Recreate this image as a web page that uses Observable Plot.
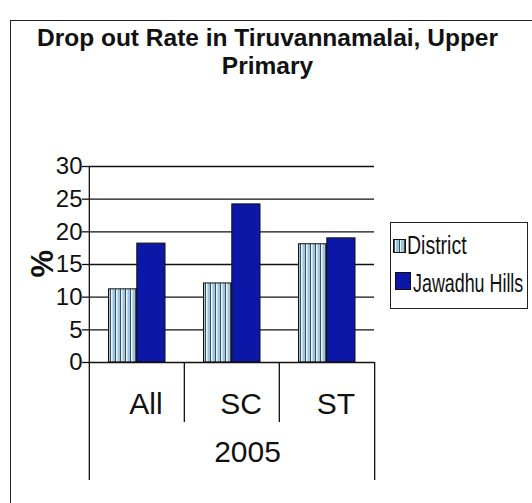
<!DOCTYPE html>
<html>
<head>
<meta charset="utf-8">
<script src="https://cdn.jsdelivr.net/npm/d3@7"></script>
<script src="https://cdn.jsdelivr.net/npm/@observablehq/plot@0.6"></script>
<style>
  body { margin: 0; background: #fff; }
  #wrap { position: relative; width: 532px; height: 503px; overflow: hidden; font-family: "Liberation Sans", Arial, sans-serif; }
  #border { position: absolute; left: 10px; top: 20px; width: 600px; height: 600px; border-left: 1.5px solid #222; border-top: 1.5px solid #222; }
  #title { position: absolute; left: 10px; width: 515px; top: 24px; text-align: center; font-weight: bold; font-size: 24.5px; line-height: 28px; color: #111; }
  #legend { position: absolute; left: 390px; top: 222px; width: 138px; height: 87px; border: 1.2px solid #222; box-sizing: border-box; background: #fff; }
  .item { position: absolute; left: 0; height: 24px; white-space: nowrap; }
  .sw { position: absolute; border: 1px solid #111; box-sizing: border-box; }
  .lab { position: absolute; font-size: 25px; transform-origin: left center; color: #111; font-family: "Liberation Sans", Arial, sans-serif; }
  #plot { position: absolute; left: 0; top: 0; }
</style>
</head>
<body>
<div id="wrap">
  <div id="border"></div>
  <div id="plot"></div>
  <div id="title">Drop out Rate in Tiruvannamalai, Upper<br>Primary</div>
  <div id="legend"></div>
</div>
<script>
const categories = ["All", "SC", "ST"];
const seriesNames = ["District", "Jawadhu Hills"];
const districtValues = [11.2, 12.1, 18.1];
const jawadhuValues = [18.2, 24.2, 19.0];
const yTicks = [0, 5, 10, 15, 20, 25, 30];
const years = ["2005"];
const yLabel = "%";

const seriesColors = ["url(#districtPattern)", "#0c17a8"];

const data = [];
categories.forEach((c, i) => {
  data.push({category: c, series: seriesNames[0], value: districtValues[i]});
  data.push({category: c, series: seriesNames[1], value: jawadhuValues[i]});
});

const W = 532, H = 503;
const mL = 88, mR = 158, mT = 166, mB = 141;
const bw = (W - mL - mR) / categories.length;

const chart = Plot.plot({
  width: W,
  height: H,
  marginLeft: mL,
  marginRight: mR,
  marginTop: mT,
  marginBottom: mB,
  style: {fontFamily: "'Liberation Sans', Arial, sans-serif", color: "#111", background: "transparent", overflow: "visible"},
  x: {domain: categories, padding: 0, label: null},
  y: {domain: [0, 30], label: null},
  marks: [
    Plot.gridY(yTicks.filter(d => d > 0), {stroke: "#111", strokeOpacity: 1, strokeWidth: 1.3}),
    Plot.barY(data.filter(d => d.series === seriesNames[0]), {x: "category", y: "value", fill: seriesColors[0], stroke: "#111", strokeWidth: 1, insetLeft: 19.5, insetRight: 47.5}),
    Plot.barY(data.filter(d => d.series === seriesNames[1]), {x: "category", y: "value", fill: seriesColors[1], stroke: "#111", strokeWidth: 1, insetLeft: 47.8, insetRight: 19}),
    Plot.ruleY([0], {stroke: "#111", strokeWidth: 1.3}),
    Plot.axisY({ticks: yTicks, tickSize: 6, tickPadding: 0, fontSize: 24, label: null, stroke: "#111", strokeWidth: 1.3}),
    Plot.axisX({tickSize: 0, tickPadding: 30, fontSize: 30, dx: 9, label: null}),
    // separator lines between categories
    Plot.ruleX(categories.slice(0, 1), {x: d => d, dx: -bw / 2, insetBottom: -118, stroke: "#111", strokeWidth: 1.3}),
    Plot.ruleX(categories.slice(1), {x: d => d, dx: -bw / 2, insetTop: 196, insetBottom: -60, stroke: "#111", strokeWidth: 1.3}),
    Plot.ruleX(categories.slice(-1), {x: d => d, dx: bw / 2, insetTop: 196, insetBottom: -118, stroke: "#111", strokeWidth: 1.3}),
    Plot.text(years, {text: d => d, frameAnchor: "bottom", dx: 16, dy: 99, fontSize: 30}),
    Plot.text([yLabel], {text: d => d, frameAnchor: "left", dx: -45, dy: 13, rotate: -90, fontSize: 31, fontWeight: "bold"})
  ]
});

const svg = d3.select(chart);
svg.insert("defs", ":first-child").html(`
  <pattern id="districtPattern" patternUnits="userSpaceOnUse" width="5" height="10">
    <rect width="5" height="10" fill="#9cc6de"/>
    <rect x="0" width="1" height="10" fill="#3c4c5e"/>
    <rect x="1" width="1.5" height="10" fill="#eef5f9"/>
  </pattern>`);

document.getElementById("plot").appendChild(chart);

// legend
const legend = document.getElementById("legend");
const swFills = [
  "repeating-linear-gradient(90deg, #3c4c5e 0 1px, #eef5f9 1px 2.5px, #9cc6de 2.5px 5px)",
  "#0c17a8"
];
const itemTops = [12, 50];
const swBoxes = [[2, 4, 13, 14], [4, -1, 16, 18]];
const labLeft = [16, 22];
const labScale = [0.78, 0.715];
seriesNames.forEach((s, i) => {
  const item = document.createElement("div");
  item.className = "item";
  item.style.top = itemTops[i] + "px";
  const sw = document.createElement("div");
  sw.className = "sw";
  sw.style.left = swBoxes[i][0] + "px";
  sw.style.top = swBoxes[i][1] + "px";
  sw.style.width = swBoxes[i][2] + "px";
  sw.style.height = swBoxes[i][3] + "px";
  sw.style.background = swFills[i];
  const lab = document.createElement("span");
  lab.className = "lab";
  lab.style.left = labLeft[i] + "px";
  lab.style.top = "-4px";
  lab.style.transform = `scaleX(${labScale[i]})`;
  lab.textContent = s;
  item.appendChild(sw);
  item.appendChild(lab);
  legend.appendChild(item);
});
</script>
</body>
</html>
